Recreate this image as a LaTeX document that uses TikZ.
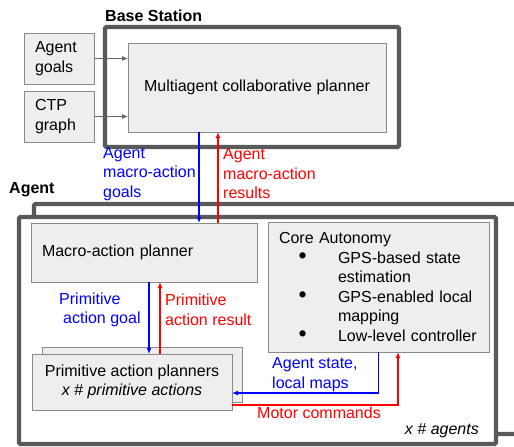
\documentclass[tikz,border=0pt]{standalone}
\usepackage{fontspec}
\setmainfont{Liberation Sans}
\usetikzlibrary{arrows.meta}

\definecolor{framegray}{HTML}{595959}
\definecolor{boxgray}{HTML}{EEEEEE}
\definecolor{edgegray}{HTML}{8A8A8A}
\definecolor{arrgray}{HTML}{666666}
\newcommand{\bigbul}{\makebox[59pt][l]{\hspace*{19.5pt}{\fontsize{23}{0}\selectfont\textbullet}}}

\begin{document}
\begin{tikzpicture}[x=1pt,y=-1pt,>={Latex[length=6pt,width=5pt]},
  font=\fontsize{16}{19.5}\selectfont,
  frame/.style={draw=framegray,line width=4.3pt,rounded corners=1.5pt},
  blk/.style={draw=edgegray,fill=boxgray,line width=0.9pt,inner sep=0pt,outer sep=0pt,anchor=north west},
  lab/.style={align=left,anchor=west,inner sep=0pt},
  hd/.style={font=\fontsize{16}{19.5}\selectfont\bfseries,inner sep=0pt,anchor=west},
  goal/.style={->,blue,line width=1.2pt},
  res/.style={->,red,line width=1.2pt}]
\useasboundingbox (0,0) rectangle (514,447);
% base station
\node (bs) [hd] at (105,16) {Base Station};
\draw[frame] (105,27) rectangle (399,147);
\node (mcp) [blk,minimum width=258pt,minimum height=89pt] at (128,43) {Multiagent collaborative planner};
\node (ag) [blk,minimum height=51pt,inner xsep=11pt,text width=48pt,align=left] at (24,33) {Agent\\goals};
\node (ctp) [blk,minimum height=51pt,inner xsep=11pt,text width=48pt,align=left] at (24,91) {CTP\\graph};
\draw[->,arrgray,line width=1pt] (ag) -- (ag -| mcp.west);
\draw[->,arrgray,line width=1pt] (ctp) -- (ctp -| mcp.west);
% agent frames
\node (agt) [hd] at (9,190) {Agent};
\begin{scope}
  \clip (0,0) rectangle (514,447);
  \draw[frame,fill=white] (34,204) rectangle (540,434);
\end{scope}
\draw[frame,fill=white] (19,217) rectangle (496,444);
\node (map) [blk,minimum height=59pt,inner xsep=11pt,text width=204pt,align=left] at (31,223) {Macro-action planner};
\node (core) [blk,minimum height=130pt,inner xsep=11pt,text width=199pt,align=left] at (268,222)
  {Core Autonomy\\
   \bigbul GPS-based state\\
   \hspace*{59pt}estimation\\
   \bigbul GPS-enabled local\\
   \hspace*{59pt}mapping\\
   \bigbul Low-level controller};
\node (papb) [blk,minimum width=200pt,minimum height=55pt] at (42,347) {};
\node (pap) [blk,minimum width=200pt,minimum height=56pt,align=center] at (32,354)
  {Primitive action planners\\\textit{x \# primitive actions}};
% macro-action links
\coordinate (gx) at ([xshift=-58pt]mcp.south);
\coordinate (rx) at ([xshift=-39pt]mcp.south);
\draw[goal] (gx) -- (gx |- map.north);
\draw[res] (rx |- map.north) -- (rx);
\node (mag) [lab,text=blue] at (103,174) {Agent\\macro-action\\goals};
\node (mar) [lab,text=red] at (223,174) {Agent\\macro-action\\results};
% primitive links
\coordinate (pgx) at ([xshift=5pt]map.south);
\coordinate (prx) at ([xshift=16pt]map.south);
\draw[goal] (pgx) -- (pgx |- pap.north);
\draw[res] (prx |- pap.north) -- (prx);
\node (pg) [lab,text=blue] at (59,310) {Primitive\\\hspace*{4pt}action goal};
\node (pr) [lab,text=red] at (165,310) {Primitive\\action result};
% core autonomy links
\draw[goal] (core.south) |- ([yshift=-11pt]pap.east);
\draw[res] ([yshift=-23pt]pap.east) -| ([xshift=19.5pt]core.south);
\node (ast) [lab,text=blue] at (272,374.5) {Agent state,\\local maps};
\node (mc) [lab,text=red] at (257,413) {Motor commands};
\node (nag) [anchor=east,inner sep=0pt] at (479,431) {\itshape x \# agents};
\end{tikzpicture}
\end{document}
